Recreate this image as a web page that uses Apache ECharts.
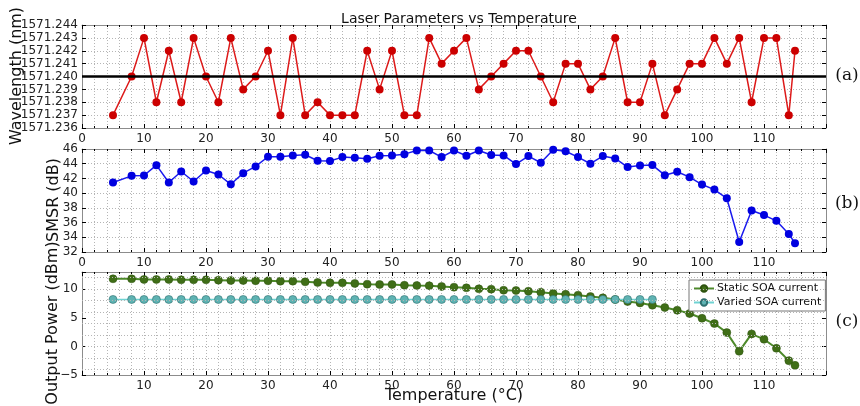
<!DOCTYPE html>
<html><head><meta charset="utf-8">
<script src="https://cdn.jsdelivr.net/npm/echarts@6/dist/echarts.min.js"></script>
<style>html,body{margin:0;padding:0;background:#fff}#c{width:860px;height:406px}</style>
</head><body><div id="c"></div>
<script>
const temps = [5,8,10,12,14,16,18,20,22,24,26,28,30,32,34,36,38,40,42,44,46,48,50,52,54,56,58,60,62,64,66,68,70,72,74,76,78,80,82,84,86,88,90,92,94,96,98,100,102,104,106,108,110,112,114,115];
const wavelength = [1571.237,1571.240,1571.243,1571.238,1571.242,1571.238,1571.243,1571.240,1571.238,1571.243,1571.239,1571.240,1571.242,1571.237,1571.243,1571.237,1571.238,1571.237,1571.237,1571.237,1571.242,1571.239,1571.242,1571.237,1571.237,1571.243,1571.241,1571.242,1571.243,1571.239,1571.240,1571.241,1571.242,1571.242,1571.240,1571.238,1571.241,1571.241,1571.239,1571.240,1571.243,1571.238,1571.238,1571.241,1571.237,1571.239,1571.241,1571.241,1571.243,1571.241,1571.243,1571.238,1571.243,1571.243,1571.237,1571.242];
const smsr = [41.44,42.35,42.4,43.8,41.44,42.94,41.58,43.08,42.53,41.2,42.72,43.63,44.95,44.95,45.13,45.22,44.4,44.36,44.9,44.8,44.68,45.09,45.13,45.3,45.8,45.8,44.9,45.8,45.09,45.8,45.18,45.13,43.95,45.04,44.13,45.9,45.7,44.9,44.0,45.04,44.72,43.54,43.77,43.81,42.44,42.9,42.17,41.17,40.48,39.3,33.37,37.65,37.02,36.24,34.46,33.19];
const powerStatic = [11.81,11.8,11.7,11.7,11.7,11.63,11.63,11.63,11.58,11.52,11.52,11.46,11.46,11.4,11.4,11.28,11.17,11.1,11.1,11.0,10.88,10.82,10.82,10.7,10.64,10.6,10.47,10.35,10.23,10.06,10.0,9.82,9.77,9.65,9.47,9.24,9.12,8.95,8.72,8.48,8.19,7.84,7.6,7.2,6.79,6.32,5.74,4.92,3.99,2.41,-0.86,2.18,1.24,-0.33,-2.49,-3.31];
const powerVaried = [8.2,8.2,8.2,8.2,8.2,8.2,8.2,8.2,8.2,8.2,8.2,8.2,8.2,8.2,8.2,8.2,8.2,8.2,8.2,8.2,8.2,8.2,8.2,8.2,8.2,8.2,8.2,8.2,8.2,8.2,8.2,8.2,8.2,8.2,8.2,8.2,8.2,8.2,8.2,8.2,8.2,8.2,8.2,8.2];
const refWavelength = 1571.240;
const xTicks = [0,10,20,30,40,50,60,70,80,90,100,110];
const powerGridLines = [-4,-2,0,2,4,6,8,10,12];

const FONT = 'DejaVu Sans';
const frame = '#8c8c8c';
const gridCol = '#b5b5b5';
const grids = [
  {left:82, right:34, top:25, height:103},
  {left:82, right:34, top:149, height:103},
  {left:82, right:34, top:272, height:103}
];
function xAx(i, pos, showLabel, hideZero){
  return {
    type:'value', gridIndex:i, position:pos, min:0, max:120, interval:10,
    axisLine:{show:true, onZero:false, lineStyle:{color:frame, width:1}},
    axisTick:{show:true, inside:true, length:4, lineStyle:{color:'#000'}},
    minorTick:{show:true, splitNumber:5, length:2, lineStyle:{color:'#000'}},
    axisLabel:{show:showLabel, color:'#222', fontSize:12, fontFamily:FONT, margin:5,
      formatter:function(v){ if(xTicks.indexOf(v)<0) return ''; if(hideZero && v===0) return ''; return String(v);}},
    splitLine:{show:showLabel, lineStyle:{color:gridCol, type:[1,2], width:1}},
    minorSplitLine:{show:showLabel, lineStyle:{color:gridCol, type:[1,2], width:1}}
  };
}
function yAx(i, pos, min, max, interval, showLabel, fmt, grid){
  return {
    type:'value', gridIndex:i, position:pos, min:min, max:max, interval:interval,
    axisLine:{show:true, onZero:false, lineStyle:{color:frame, width:1}},
    axisTick:{show:true, inside:true, length:4, lineStyle:{color:'#000'}},
    axisLabel:{show:showLabel, color:'#222', fontSize:12, fontFamily:FONT, margin:4, formatter:fmt, showMaxLabel:true},
    splitLine:{show:showLabel && grid, lineStyle:{color:gridCol, type:[1,2], width:1}}
  };
}
const xData = (arr)=>arr.map((v,k)=>[temps[k], v]);

const option = {
  animation:false,
  backgroundColor:'#fff',
  title:{text:'Laser Parameters vs Temperature', left:454, top:7, textAlign:'center',
    textStyle:{fontFamily:FONT, fontSize:14, fontWeight:'normal', color:'#111'}},
  grid:grids,
  xAxis:[xAx(0,'bottom',true,false), xAx(0,'top',false,false),
         xAx(1,'bottom',true,false), xAx(1,'top',false,false),
         xAx(2,'bottom',true,true), xAx(2,'top',false,false)],
  yAxis:[
    yAx(0,'left',1571.236,1571.244,0.001,true,v=>v.toFixed(3),true),
    yAx(0,'right',1571.236,1571.244,0.001,false,null,false),
    yAx(1,'left',32,46,2,true,v=>String(v),true),
    yAx(1,'right',32,46,2,false,null,false),
    yAx(2,'left',-5,13,5,true,v=>(v>10?'':(v<0?'\u22125':String(v))),false),
    yAx(2,'right',-5,13,5,false,null,false)
  ],
  legend:{
    data:['Static SOA current','Varied SOA current'],
    orient:'vertical', left:689, top:280, itemGap:3, itemWidth:20, itemHeight:8,
    padding:[3,4,3,4], backgroundColor:'#fff', borderColor:'#777', borderWidth:1, borderRadius:0,
    textStyle:{fontFamily:FONT, fontSize:11, color:'#111', padding:[0,0,0,-2]}
  },
  graphic:[
    {type:'text', x:17, y:76, rotation:Math.PI/2, style:{text:'Wavelength (nm)', font:'16px "DejaVu Sans"', fill:'#111', textAlign:'center', textVerticalAlign:'middle'}},
    {type:'text', x:54, y:200, rotation:Math.PI/2, style:{text:'SMSR (dB)', font:'16px "DejaVu Sans"', fill:'#111', textAlign:'center', textVerticalAlign:'middle'}},
    {type:'text', x:53, y:323, rotation:Math.PI/2, style:{text:'Output Power (dBm)', font:'16px "DejaVu Sans"', fill:'#111', textAlign:'center', textVerticalAlign:'middle'}},
    {type:'text', x:454, y:396, style:{text:'Temperature (\u00B0C)', font:'16px "DejaVu Sans"', fill:'#111', textAlign:'center', textVerticalAlign:'middle'}},
    {type:'text', x:847, y:76, style:{text:'(a)', font:'17px "DejaVu Serif"', fill:'#111', textAlign:'center', textVerticalAlign:'middle'}},
    {type:'text', x:847, y:204, style:{text:'(b)', font:'17px "DejaVu Serif"', fill:'#111', textAlign:'center', textVerticalAlign:'middle'}},
    {type:'text', x:847, y:322, style:{text:'(c)', font:'17px "DejaVu Serif"', fill:'#111', textAlign:'center', textVerticalAlign:'middle'}}
  ],
  series:[
    {type:'line', xAxisIndex:0, yAxisIndex:0, data:xData(wavelength), symbol:'circle', symbolSize:8,
     lineStyle:{color:'#dd1a1a', width:1.5}, itemStyle:{color:'#cc0000'}, z:3,
     markLine:{silent:true, symbol:'none', label:{show:false}, lineStyle:{color:'#000', width:2.5, type:'solid'}, data:[{yAxis:refWavelength}]}},
    {type:'line', xAxisIndex:2, yAxisIndex:2, data:xData(smsr), symbol:'circle', symbolSize:8,
     lineStyle:{color:'#1a1aee', width:1.5}, itemStyle:{color:'#0000e0'}},
    {type:'line', name:'Static SOA current', xAxisIndex:4, yAxisIndex:4, data:xData(powerStatic), symbol:'circle', symbolSize:8,
     lineStyle:{color:'#4d8a2a', width:2}, itemStyle:{color:'#3f6e17', borderColor:'#2e5210', borderWidth:0.5},
     markLine:{silent:true, symbol:'none', label:{show:false}, lineStyle:{color:gridCol, width:1, type:[1,2]},
       data:powerGridLines.map(v=>({yAxis:v}))}},
    {type:'line', name:'Varied SOA current', xAxisIndex:4, yAxisIndex:4, data:xData(powerVaried), symbol:'circle', symbolSize:8,
     lineStyle:{color:'#6fd3d3', width:1.5}, itemStyle:{color:'#5fb3b3', borderColor:'#2f7070', borderWidth:0.6}}
  ]
};
const chart = echarts.init(document.getElementById('c'), null, {renderer:'canvas'});
chart.setOption(option);
</script></body></html>
